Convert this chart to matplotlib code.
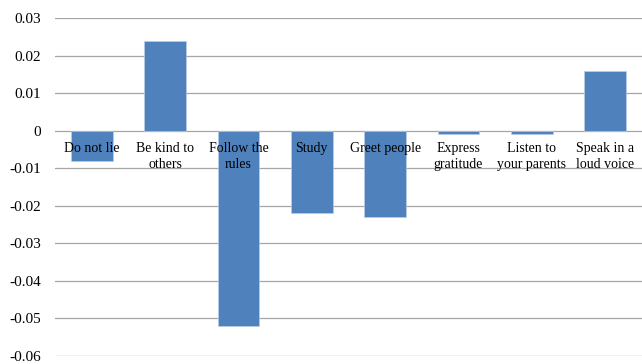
import matplotlib
matplotlib.use("Agg")
import matplotlib.pyplot as plt
import numpy as np

categories = ["Do not lie", "Be kind to\nothers", "Follow the\nrules", "Study",
              "Greet people", "Express\ngratitude", "Listen to\nyour parents",
              "Speak in a\nloud voice"]
values = [-0.008, 0.024, -0.052, -0.022, -0.023, -0.001, -0.001, 0.016]
yticks = [0.03, 0.02, 0.01, 0, -0.01, -0.02, -0.03, -0.04, -0.05, -0.06]
ytick_labels = ["0.03", "0.02", "0.01", "0", "-0.01", "-0.02", "-0.03",
                "-0.04", "-0.05", "-0.06"]

plt.rcParams["font.family"] = ["Liberation Serif", "DejaVu Serif"]

fig = plt.figure(figsize=(6.42, 3.64), dpi=100)
ax = fig.add_axes([55 / 642, 1 - 356 / 364, 1 - 55 / 642, (356 - 18) / 364])

x = np.arange(len(categories))
ax.bar(x, values, width=0.57, color="#4F81BD", edgecolor="#B9CDE5",
       linewidth=0.5, zorder=3)

ax.set_xlim(-0.5, len(categories) - 0.5)
ax.set_ylim(-0.06, 0.03)
ax.set_yticks(yticks)
ax.set_yticklabels(ytick_labels, fontsize=11)
ax.yaxis.grid(True, color="#a6a6a6", linewidth=0.9, zorder=0)
ax.tick_params(axis="y", length=0, pad=10)

for s in ax.spines.values():
    s.set_visible(False)

ax.set_xticks([])
for xi, lab in zip(x, categories):
    ax.annotate(lab, xy=(xi, 0), xytext=(0, -8.5), textcoords="offset points",
                ha="center", va="top", fontsize=10, linespacing=1.25,
                zorder=4)

fig.savefig("out.png", dpi=100)
